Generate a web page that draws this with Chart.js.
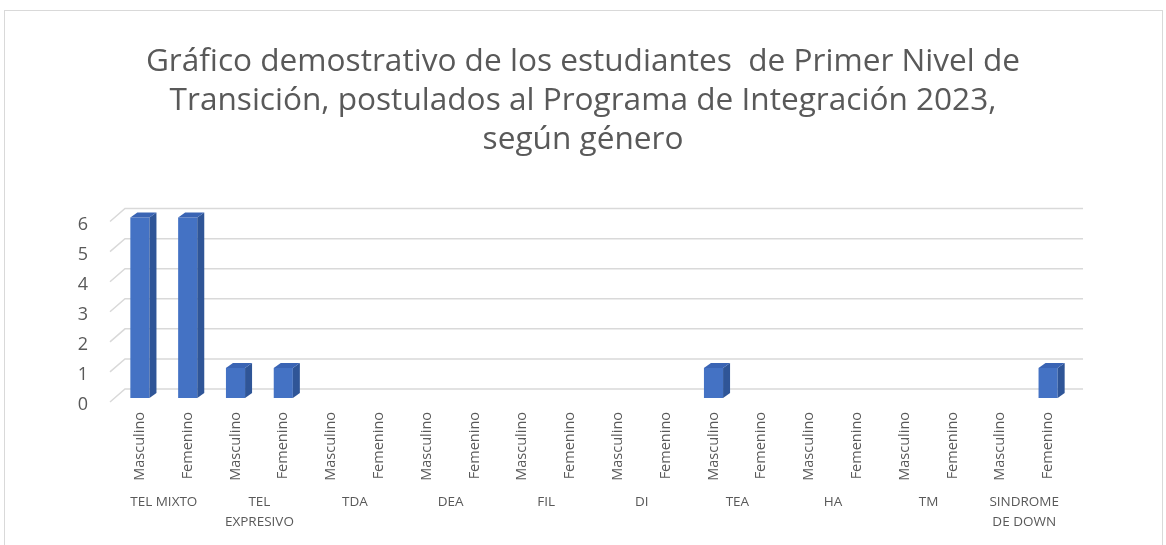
<!DOCTYPE html>
<html>
<head>
<meta charset="utf-8">
<script src="https://cdn.jsdelivr.net/npm/chart.js@4.4.1/dist/chart.umd.min.js"></script>
<style>
  html, body { margin: 0; padding: 0; background: #fff; }
  #wrap { width: 1166px; height: 545px; }
</style>
</head>
<body>
<div id="wrap"><canvas id="grafico" width="1166" height="545"></canvas></div>
<script>
// datos del gráfico
const tituloLineas = [
  "Gráfico demostrativo de los estudiantes  de Primer Nivel de",
  "Transición, postulados al Programa de Integración 2023,",
  "según género"
];
const diagnosticos = ["TEL MIXTO", ["TEL", "EXPRESIVO"], "TDA", "DEA", "FIL", "DI", "TEA", "HA", "TM", ["SINDROME", "DE DOWN"]];
const generos = ["Masculino", "Femenino"];
const masculino = [6, 1, 0, 0, 0, 0, 1, 0, 0, 0];
const femenino  = [6, 1, 0, 0, 0, 0, 0, 0, 0, 1];
const ticksY = [0, 1, 2, 3, 4, 5, 6];

// una barra por genero dentro de cada diagnostico
const etiquetas = [];
const valores = [];
diagnosticos.forEach((d, i) => {
  etiquetas.push(generos[0]); valores.push(masculino[i]);
  etiquetas.push(generos[1]); valores.push(femenino[i]);
});

const GRIS = "#595959";
const FUENTE = "'Open Sans', sans-serif";
const prof = { dx: 7, dy: 5 };

// marco, rejilla 3D, caras de las barras y nombres de grupo
const efecto3D = {
  id: "efecto3D",
  beforeDraw(chart) {
    const c = chart.ctx;
    c.save();
    c.strokeStyle = "#d9d9d9";
    c.lineWidth = 1;
    c.strokeRect(4.5, 10.5, 1158, 560);
    c.restore();
  },
  beforeDatasetsDraw(chart) {
    const c = chart.ctx, y = chart.scales.y, a = chart.chartArea;
    c.save();
    c.strokeStyle = "#d9d9d9";
    c.lineWidth = 1.5;
    ticksY.forEach(v => {
      const py = y.getPixelForValue(v);
      c.beginPath();
      c.moveTo(a.left - 6, py + 4);
      c.lineTo(a.left + 9, py - 9);
      c.lineTo(a.right + 11, py - 9);
      c.stroke();
    });
    c.restore();
  },
  afterDatasetsDraw(chart) {
    const c = chart.ctx;
    const meta = chart.getDatasetMeta(0);
    c.save();
    meta.data.forEach((bar, i) => {
      if (!valores[i]) return;
      const w = bar.width / 2;
      const x0 = bar.x - w, x1 = bar.x + w, top = bar.y, base = bar.base;
      c.fillStyle = "#2f5597";
      c.beginPath();
      c.moveTo(x1, top); c.lineTo(x1 + prof.dx, top - prof.dy);
      c.lineTo(x1 + prof.dx, base - prof.dy); c.lineTo(x1, base);
      c.closePath(); c.fill();
      c.fillStyle = "#3a64b4";
      c.beginPath();
      c.moveTo(x0, top); c.lineTo(x0 + prof.dx, top - prof.dy);
      c.lineTo(x1 + prof.dx, top - prof.dy); c.lineTo(x1, top);
      c.closePath(); c.fill();
    });
    // nombres de diagnostico bajo cada par
    const x = chart.scales.x;
    c.fillStyle = GRIS;
    c.font = "13.5px " + FUENTE;
    c.textAlign = "center";
    c.textBaseline = "middle";
    diagnosticos.forEach((d, i) => {
      const cx = (x.getPixelForValue(2 * i) + x.getPixelForValue(2 * i + 1)) / 2;
      const lineas = Array.isArray(d) ? d : [d];
      lineas.forEach((t, j) => c.fillText(t, cx, 502 + j * 20));
    });
    c.restore();
  }
};

const ctx = document.getElementById("grafico").getContext("2d");
new Chart(ctx, {
  type: "bar",
  data: {
    labels: etiquetas,
    datasets: [{
      data: valores,
      backgroundColor: "#4472c4",
      barPercentage: 0.4,
      categoryPercentage: 1,
      clip: false
    }]
  },
  options: {
    responsive: false,
    animation: false,
    layout: { padding: { top: 0, left: 60, right: 60, bottom: 0 } },
    plugins: {
      legend: { display: false },
      tooltip: { enabled: false },
      title: {
        display: true,
        text: tituloLineas,
        color: GRIS,
        font: { family: FUENTE, size: 31.6, weight: "normal", lineHeight: 1.24 },
        padding: { top: 42, bottom: 58 }
      }
    },
    scales: {
      x: {
        grid: { display: false, drawTicks: false },
        border: { display: false },
        afterFit(s) { s.height = 147; },
        ticks: {
          autoSkip: false,
          minRotation: 90,
          maxRotation: 90,
          padding: 14,
          color: GRIS,
          font: { family: FUENTE, size: 14.5 }
        }
      },
      y: {
        min: 0,
        max: 6,
        grid: { display: false, drawTicks: false },
        border: { display: false },
        afterFit(s) { s.width = 56; },
        ticks: {
          stepSize: 1,
          padding: 28,
          labelOffset: 7,
          color: GRIS,
          font: { family: FUENTE, size: 18 }
        }
      },
      // eje vacío a la derecha, sólo reserva espacio para que el título quede centrado
      derecha: {
        type: "linear",
        position: "right",
        grid: { display: false, drawTicks: false },
        border: { display: false },
        ticks: { display: false },
        afterFit(s) { s.width = 34; }
      }
    }
  },
  plugins: [efecto3D]
});
</script>
</body>
</html>
